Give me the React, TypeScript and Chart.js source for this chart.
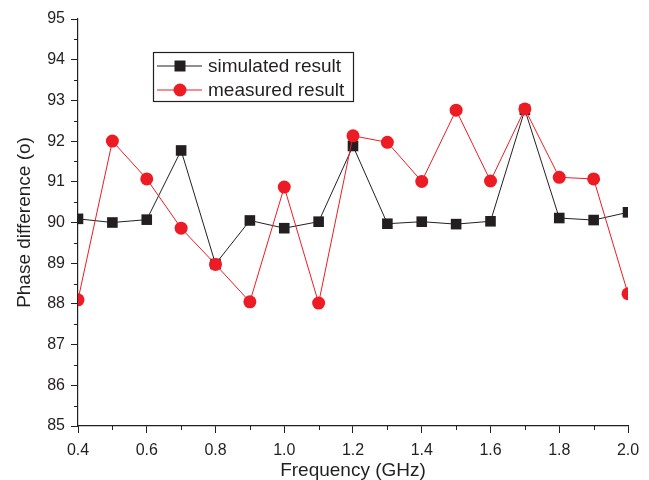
import React, { useEffect, useRef } from "react";
import { Chart, registerables } from "chart.js";

Chart.register(...registerables);

const frequencies = [0.4, 0.5, 0.6, 0.7, 0.8, 0.9, 1.0, 1.1, 1.2, 1.3, 1.4, 1.5, 1.6, 1.7, 1.8, 1.9, 2.0];
const simulated = [90.09, 90.0, 90.07, 91.77, 88.98, 90.05, 89.86, 90.02, 91.88, 89.97, 90.02, 89.96, 90.03, 92.77, 90.11, 90.06, 90.25];
const measured = [88.1, 92.0, 91.07, 89.86, 88.97, 88.05, 90.87, 88.02, 92.13, 91.97, 91.01, 92.76, 91.02, 92.79, 91.11, 91.07, 88.25];
const xTicks = [0.4, 0.6, 0.8, 1.0, 1.2, 1.4, 1.6, 1.8, 2.0];
const yTicks = [85, 86, 87, 88, 89, 90, 91, 92, 93, 94, 95];
const xMinorTicks = [0.5, 0.7, 0.9, 1.1, 1.3, 1.5, 1.7, 1.9];
const yMinorTicks = [85.5, 86.5, 87.5, 88.5, 89.5, 90.5, 91.5, 92.5, 93.5, 94.5];
const seriesNames = ["simulated result", "measured result"];

const BLACK = "#231f20";
const RED = "#ed1c24";
const FONT = "'Liberation Sans', Arial, sans-serif";

const clipPlugin = {
  id: "hardClip",
  beforeDatasetsDraw(chart: any) {
    const a = chart.chartArea;
    const ctx = chart.ctx;
    ctx.save();
    ctx.beginPath();
    ctx.rect(a.left, a.top - 10, a.right - a.left, a.bottom - a.top + 10);
    ctx.clip();
  },
  afterDatasetsDraw(chart: any) {
    chart.ctx.restore();
  },
};

const minorTicksPlugin = {
  id: "minorTicks",
  afterDraw(chart: any) {
    const ctx = chart.ctx;
    const xs = chart.scales.x;
    const ys = chart.scales.y;
    const area = chart.chartArea;
    ctx.save();
    ctx.strokeStyle = BLACK;
    ctx.lineWidth = 1;
    ctx.beginPath();
    xMinorTicks.forEach((v) => {
      const px = Math.round(xs.getPixelForValue(v)) + 0.5;
      ctx.moveTo(px, area.bottom);
      ctx.lineTo(px, area.bottom + 4);
    });
    yMinorTicks.forEach((v) => {
      const py = Math.round(ys.getPixelForValue(v)) + 0.5;
      ctx.moveTo(area.left, py);
      ctx.lineTo(area.left - 4, py);
    });
    ctx.stroke();
    ctx.restore();
  },
};

const legendPlugin = {
  id: "customLegend",
  afterDraw(chart: any) {
    const ctx = chart.ctx;
    ctx.save();
    const bx = 153.5, by = 52.5, bw = 200, bh = 49;
    ctx.strokeStyle = BLACK;
    ctx.lineWidth = 1.2;
    ctx.strokeRect(bx, by, bw, bh);
    const rows = [66, 90];
    chart.data.datasets.forEach((ds: any, i: number) => {
      const y = rows[i];
      ctx.strokeStyle = ds.borderColor;
      ctx.lineWidth = 1;
      ctx.beginPath();
      ctx.moveTo(157, y);
      ctx.lineTo(202, y);
      ctx.stroke();
      ctx.fillStyle = ds.backgroundColor;
      if (ds.pointStyle === "rect") {
        ctx.fillRect(180 - 5.5, y - 5.5, 11, 11);
      } else {
        ctx.beginPath();
        ctx.arc(180, y, 6.5, 0, Math.PI * 2);
        ctx.fill();
      }
      ctx.fillStyle = BLACK;
      ctx.font = `19px ${FONT}`;
      ctx.textBaseline = "middle";
      ctx.textAlign = "left";
      ctx.fillText(ds.label, 208, y + 1);
    });
    ctx.restore();
  },
};

export default function App() {
  const canvasRef = useRef<HTMLCanvasElement | null>(null);

  useEffect(() => {
    if (!canvasRef.current) return;
    const chart = new Chart(canvasRef.current, {
      type: "line",
      data: {
        datasets: [
          {
            label: seriesNames[0],
            data: frequencies.map((f, i) => ({ x: f, y: simulated[i] })),
            borderColor: BLACK,
            backgroundColor: BLACK,
            borderWidth: 1,
            pointStyle: "rect",
            pointRadius: 7.5,
            pointBorderWidth: 0,
            clip: 0,
            order: 1,
          },
          {
            label: seriesNames[1],
            data: frequencies.map((f, i) => ({ x: f, y: measured[i] })),
            borderColor: RED,
            backgroundColor: RED,
            borderWidth: 1,
            pointStyle: "circle",
            pointRadius: 6.5,
            pointBorderWidth: 0,
            clip: 0,
            order: 0,
          },
        ],
      },
      options: {
        responsive: false,
        animation: false,
        layout: { padding: { top: 19, right: 21, left: 0, bottom: 0 } },
        plugins: {
          legend: { display: false },
          tooltip: { enabled: false },
        },
        scales: {
          x: {
            type: "linear",
            min: 0.4,
            max: 2.0,
            afterBuildTicks: (s: any) => {
              s.ticks = xTicks.map((v) => ({ value: v }));
            },
            afterFit: (s: any) => {
              s.height = 54;
            },
            ticks: {
              callback: (v: any) => Number(v).toFixed(1),
              color: BLACK,
              font: { family: FONT, size: 16 },
              padding: 8,
              maxRotation: 0,
              autoSkip: false,
            },
            grid: {
              display: true,
              drawOnChartArea: false,
              drawTicks: true,
              tickLength: 7,
              tickColor: BLACK,
              tickWidth: 1,
            },
            border: { display: true, color: BLACK, width: 1.2 },
            title: {
              display: true,
              text: "Frequency (GHz)",
              color: BLACK,
              font: { family: FONT, size: 19 },
              padding: { top: 0, bottom: -2 },
            },
          },
          y: {
            type: "linear",
            min: 85,
            max: 95,
            afterBuildTicks: (s: any) => {
              s.ticks = yTicks.map((v) => ({ value: v }));
            },
            afterFit: (s: any) => {
              s.width = 78;
            },
            ticks: {
              callback: (v: any) => String(v),
              color: BLACK,
              font: { family: FONT, size: 16 },
              padding: 6,
              autoSkip: false,
            },
            grid: {
              display: true,
              drawOnChartArea: false,
              drawTicks: true,
              tickLength: 7,
              tickColor: BLACK,
              tickWidth: 1,
            },
            border: { display: true, color: BLACK, width: 1.2 },
            title: {
              display: true,
              text: "Phase difference (o)",
              color: BLACK,
              font: { family: FONT, size: 19 },
              padding: { top: 13, bottom: 0 },
            },
          },
        },
      },
      plugins: [clipPlugin, minorTicksPlugin, legendPlugin],
    } as any);
    return () => chart.destroy();
  }, []);

  return (
    <div style={{ position: "fixed", left: 0, top: 0, width: 649, height: 480, background: "#fff" }}>
      <canvas ref={canvasRef} width={649} height={480} style={{ display: "block" }} />
    </div>
  );
}
